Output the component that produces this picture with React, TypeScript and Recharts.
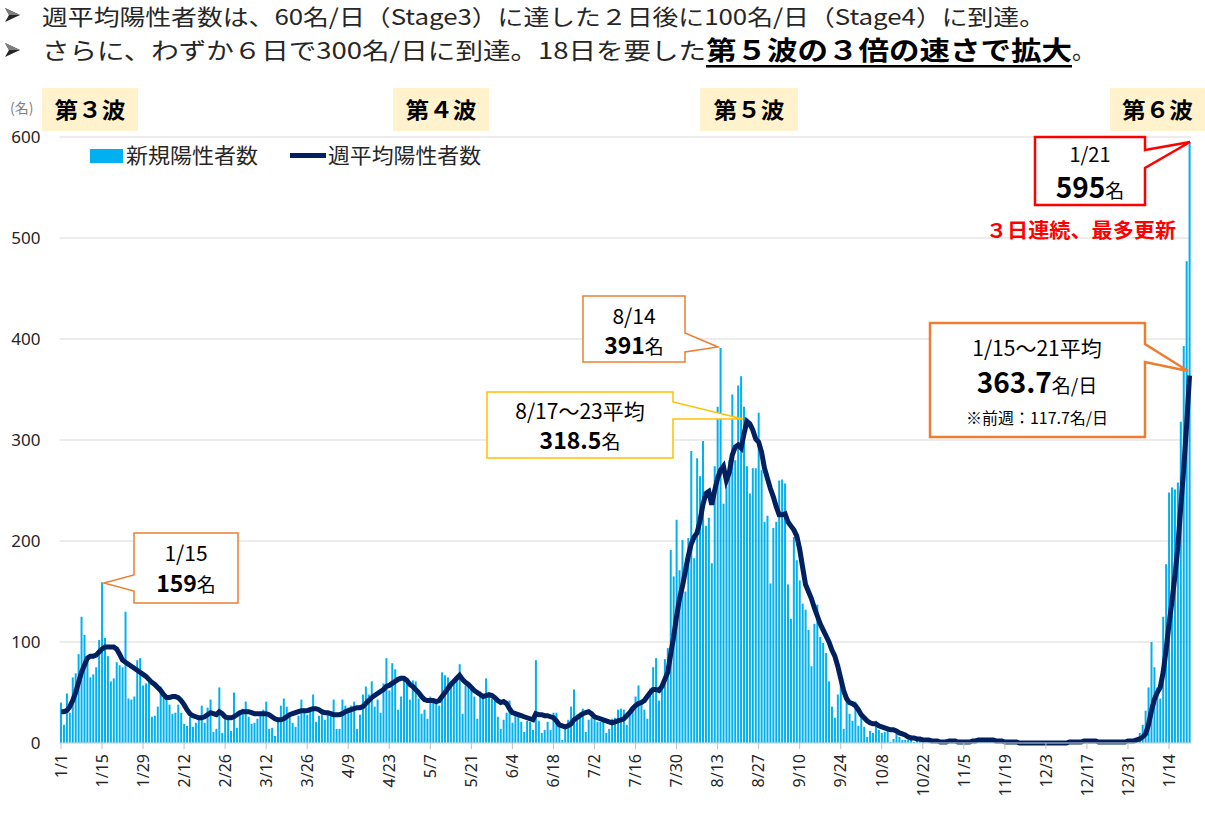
import React from 'react';
import { ComposedChart, Bar, Line, XAxis, YAxis, CartesianGrid } from 'recharts';

// 新規陽性者数 (2021/1/1 - 2022/1/21)
const jan21Cases = [40, 18, 49, 30, 65, 69, 88, 125, 107, 86, 65, 68, 75, 102, 159, 104, 86, 61, 64, 80, 77, 75, 130, 44, 43, 46, 82, 84, 57, 59, 64];
const feb21Cases = [26, 27, 36, 56, 46, 46, 38, 29, 30, 38, 30, 19, 17, 26, 16, 20, 26, 37, 20, 35, 43, 11, 14, 55, 10, 26, 26, 12];
const mar21Cases = [50, 15, 30, 34, 41, 26, 19, 20, 24, 29, 33, 41, 14, 15, 7, 25, 37, 44, 36, 29, 20, 16, 27, 43, 34, 28, 31, 48, 21, 27, 33];
const apr21Cases = [23, 29, 29, 43, 14, 14, 43, 37, 35, 37, 41, 14, 28, 48, 56, 48, 61, 36, 43, 30, 59, 84, 52, 79, 73, 33, 46, 65, 64, 43];
const may21Cases = [62, 61, 44, 29, 33, 24, 46, 43, 41, 37, 70, 67, 65, 61, 60, 62, 78, 29, 57, 56, 53, 46, 24, 51, 46, 64, 46, 44, 44, 26, 14];
const jun21Cases = [23, 30, 42, 20, 31, 30, 21, 11, 22, 21, 13, 82, 22, 10, 13, 21, 13, 30, 30, 16, 3, 14, 23, 36, 53, 28, 30, 34, 11, 23];
const jul21Cases = [25, 24, 21, 21, 22, 10, 14, 24, 25, 33, 34, 33, 18, 31, 35, 46, 57, 41, 33, 24, 54, 75, 84, 42, 53, 83, 94, 191, 165, 221, 171];
const aug21Cases = [201, 150, 203, 289, 183, 282, 264, 299, 215, 223, 178, 274, 333, 391, 237, 254, 280, 345, 280, 354, 363, 333, 274, 247, 272, 272, 327, 270, 219, 225, 158];
const sep21Cases = [213, 219, 260, 261, 257, 157, 123, 204, 181, 161, 138, 132, 112, 76, 118, 137, 105, 99, 89, 61, 36, 25, 48, 68, 14, 48, 29, 22, 41, 17];
const oct21Cases = [26, 16, 6, 12, 10, 22, 13, 10, 11, 16, 1, 4, 13, 6, 3, 3, 3, 5, 1, 2, 4, 1, 0, 2, 1, 2, 1, 0, 2, 4, 1];
const nov21Cases = [1, 0, 2, 1, 0, 1, 3, 2, 4, 3, 5, 2, 3, 4, 1, 2, 1, 0, 1, 0, 0, 1, 0, 0, 1, 0, 0, 0, 1, 0];
const dec21Cases = [0, 0, 1, 0, 0, 0, 0, 1, 0, 0, 0, 1, 0, 1, 2, 3, 2, 1, 2, 1, 1, 0, 1, 2, 1, 0, 1, 2, 1, 2, 3];
const jan22Cases = [2, 3, 5, 10, 18, 32, 55, 100, 75, 55, 44, 125, 177, 248, 253, 251, 258, 318, 393, 477, 595];

// 週平均陽性者数
const jan21Avg = [31, 31, 32, 36, 42, 50, 60, 70, 77, 84, 86, 86, 87, 90, 93, 95, 95, 95, 95, 93, 88, 82, 80, 78, 76, 74, 72, 70, 68, 66, 63];
const feb21Avg = [60, 58, 55, 52, 48, 45, 45, 46, 46, 45, 42, 38, 33, 29, 27, 26, 25, 25, 26, 28, 30, 29, 28, 31, 29, 26, 25, 25];
const mar21Avg = [26, 28, 30, 31, 31, 31, 30, 29, 29, 29, 29, 29, 28, 26, 24, 23, 23, 24, 26, 28, 29, 30, 31, 32, 32, 32, 33, 34, 34, 33, 31];
const apr21Avg = [30, 30, 29, 28, 28, 28, 29, 31, 32, 33, 34, 35, 35, 36, 39, 42, 45, 47, 49, 51, 53, 56, 57, 59, 61, 63, 64, 64, 62, 58];
const may21Avg = [56, 53, 50, 46, 43, 42, 42, 42, 41, 42, 46, 50, 54, 58, 61, 64, 67, 63, 60, 58, 55, 52, 50, 48, 46, 47, 48, 47, 45, 42, 40];
const jun21Avg = [41, 39, 34, 30, 29, 28, 27, 26, 25, 24, 23, 29, 28, 28, 27, 27, 26, 25, 22, 18, 17, 16, 17, 19, 23, 25, 27, 29, 30, 31];
const jul21Avg = [29, 26, 25, 24, 23, 22, 21, 20, 21, 22, 23, 24, 27, 30, 34, 37, 39, 40, 42, 46, 50, 53, 53, 52, 56, 63, 70, 88, 105, 125, 143];
const aug21Avg = [155, 170, 185, 197, 204, 208, 220, 236, 247, 249, 236, 250, 262, 270, 274, 260, 268, 285, 293, 295, 292, 306, 318.5, 316, 310, 301, 298, 288, 272, 262, 252];
const sep21Avg = [244, 234, 226, 226, 227, 219, 215, 211, 205, 192, 174, 157, 150, 143, 134, 126, 118, 112, 106, 100, 92, 86, 76, 64, 52, 44, 40, 39, 37, 33];
const oct21Avg = [28, 25, 22, 20, 19, 19, 17, 16, 15, 14, 13, 13, 12, 10, 9, 8, 6, 5, 5, 4, 4, 3, 3, 3, 2, 2, 2, 1, 1, 1, 2];
const nov21Avg = [2, 2, 1, 1, 1, 1, 1, 2, 2, 3, 3, 3, 3, 3, 3, 2, 2, 2, 1, 1, 1, 1, 1, 0, 0, 0, 0, 0, 0, 0];
const dec21Avg = [0, 0, 0, 0, 0, 0, 0, 0, 0, 0, 1, 1, 1, 1, 1, 2, 2, 2, 2, 2, 1, 1, 1, 1, 1, 1, 1, 1, 1, 1, 2];
const jan22Avg = [2, 2, 3, 4, 6, 9, 18, 32, 43, 50, 55, 70, 92, 117.7, 140, 165, 194, 233, 271, 314, 363.7];

const monthNums = [1, 2, 3, 4, 5, 6, 7, 8, 9, 10, 11, 12, 1];
const casesByMonth = [jan21Cases, feb21Cases, mar21Cases, apr21Cases, may21Cases, jun21Cases, jul21Cases, aug21Cases, sep21Cases, oct21Cases, nov21Cases, dec21Cases, jan22Cases];
const avgByMonth = [jan21Avg, feb21Avg, mar21Avg, apr21Avg, may21Avg, jun21Avg, jul21Avg, aug21Avg, sep21Avg, oct21Avg, nov21Avg, dec21Avg, jan22Avg];

const tickLabels = ['1/1', '1/15', '1/29', '2/12', '2/26', '3/12', '3/26', '4/9', '4/23', '5/7', '5/21', '6/4', '6/18', '7/2', '7/16', '7/30', '8/13', '8/27', '9/10', '9/24', '10/8', '10/22', '11/5', '11/19', '12/3', '12/17', '12/31', '1/14'];
const yTicks = [0, 100, 200, 300, 400, 500, 600];

const data = casesByMonth
  .flatMap((arr, m) => arr.map((v, d) => ({ label: `${monthNums[m]}/${d + 1}`, cases: v, avg: avgByMonth[m][d] })))
  .map((row, i) => ({ ...row, i }));

const JP = "'Noto Sans CJK JP', 'Noto Sans', sans-serif";

const DateTick = (props: any) => {
  const { x, y, payload } = props;
  const label = tickLabels[Math.round(payload.value / 14)];
  return (
    <text transform={`translate(${x},${y + 3}) rotate(-90)`} textAnchor="end" dy="0.36em" fontSize={16} fill="#262626" fontFamily="'Noto Sans', sans-serif">
      {label}
    </text>
  );
};

// bullet arrowhead like the ➢ glyph
const Bullet = ({ y }: { y: number }) => (
  <g>
    <path d={`M5,${y - 7} L20,${y} L5,${y + 7} L9,${y} Z`} fill="#262626" />
    <path d={`M5,${y - 7} L20,${y} L9,${y} Z`} fill="#7F7F7F" />
  </g>
);

const Overlay = () => (
  <svg width={1205} height={823} style={{ position: 'absolute', left: 0, top: 0, pointerEvents: 'none' }} fontFamily={JP}>
    {/* header */}
    <Bullet y={15} />
    <Bullet y={50} />
    <text x={42} y={25} fontSize={22} fill="#262626" textLength={1003} lengthAdjust="spacingAndGlyphs">
      週平均陽性者数は、60名/日（Stage3）に達した２日後に100名/日（Stage4）に到達。
    </text>
    <text x={42} y={59} fontSize={23} fill="#262626" textLength={664} lengthAdjust="spacingAndGlyphs">
      さらに、わずか６日で300名/日に到達。18日を要した
    </text>
    <text x={706} y={60} fontSize={26} fontWeight={700} fill="#000" textLength={366} lengthAdjust="spacingAndGlyphs">
      第５波の３倍の速さで拡大
    </text>
    <rect x={706} y={65} width={366} height={2.5} fill="#000" />
    <text x={1072} y={59} fontSize={23} fill="#262626">。</text>

    {/* wave labels */}
    {[
      { x: 42, w: 96, t: '第３波' },
      { x: 393, w: 96, t: '第４波' },
      { x: 700, w: 98, t: '第５波' },
      { x: 1110, w: 95, t: '第６波' },
    ].map((b) => (
      <g key={b.t}>
        <rect x={b.x} y={88} width={b.w} height={43} fill="#FFF2CC" />
        <text x={b.x + b.w / 2} y={118} fontSize={22} fontWeight={700} textAnchor="middle" fill="#000" textLength={71} lengthAdjust="spacingAndGlyphs">{b.t}</text>
      </g>
    ))}
    <text x={10} y={113} fontSize={14} fill="#7F7F7F">(名)</text>

    {/* legend */}
    <rect x={90} y={149} width={33} height={14} fill="#00B0F0" />
    <text x={126} y={163} fontSize={21} fill="#262626" textLength={132} lengthAdjust="spacingAndGlyphs">新規陽性者数</text>
    <line x1={290} x2={326} y1={155.5} y2={155.5} stroke="#002060" strokeWidth={5} />
    <text x={328} y={163} fontSize={21} fill="#262626" textLength={153} lengthAdjust="spacingAndGlyphs">週平均陽性者数</text>

    {/* callouts */}
    <path d="M134,533 H238 V603 H134 V591 L104,583 L134,575 Z" fill="#fff" stroke="#ED7D31" strokeWidth={1.5} />
    <text x={186} y={561} fontSize={21} textAnchor="middle" fill="#000">1/15</text>
    <text x={186} y={592} textAnchor="middle" fill="#000">
      <tspan fontSize={23} fontWeight={700}>159</tspan>
      <tspan fontSize={19}>名</tspan>
    </text>

    <path d="M583,296 H685 V333 L718,347 L685,352 V362 H583 Z" fill="#fff" stroke="#ED7D31" strokeWidth={1.5} />
    <text x={634} y={324} fontSize={21} textAnchor="middle" fill="#000">8/14</text>
    <text x={634} y={354} textAnchor="middle" fill="#000">
      <tspan fontSize={23} fontWeight={700}>391</tspan>
      <tspan fontSize={19}>名</tspan>
    </text>

    <path d="M487,392 H673 V402 L743,419 L673,419 V458 H487 Z" fill="#fff" stroke="#FFC000" strokeWidth={1.5} />
    <text x={580} y={419} fontSize={21} textAnchor="middle" fill="#000">8/17～23平均</text>
    <text x={580} y={449} textAnchor="middle" fill="#000">
      <tspan fontSize={23} fontWeight={700}>318.5</tspan>
      <tspan fontSize={19}>名</tspan>
    </text>

    <path d="M1035,137 H1145 V150 L1190,142 L1145,168 V205 H1035 Z" fill="#fff" stroke="#FF0000" strokeWidth={2.5} />
    <text x={1090} y={162} fontSize={20} textAnchor="middle" fill="#000">1/21</text>
    <text x={1090} y={198} textAnchor="middle" fill="#000">
      <tspan fontSize={28} fontWeight={700}>595</tspan>
      <tspan fontSize={19}>名</tspan>
    </text>
    <text x={1081} y={238} fontSize={20} fontWeight={700} textAnchor="middle" fill="#FF0000" textLength={190} lengthAdjust="spacingAndGlyphs">３日連続、最多更新</text>

    <path d="M930,323 H1145 V344 L1188,371 L1145,362 V437 H930 Z" fill="#fff" stroke="#ED7D31" strokeWidth={2.5} />
    <text x={1037} y={356} fontSize={21} textAnchor="middle" fill="#000">1/15～21平均</text>
    <text x={1037} y={393} textAnchor="middle" fill="#000">
      <tspan fontSize={28} fontWeight={700}>363.7</tspan>
      <tspan fontSize={19}>名/日</tspan>
    </text>
    <text x={1037} y={424} fontSize={16} textAnchor="middle" fill="#000">※前週：117.7名/日</text>
  </svg>
);

export default function App() {
  return (
    <div style={{ position: 'absolute', left: 0, top: 0, width: 1205, height: 823, background: '#fff', overflow: 'hidden' }}>
      <ComposedChart
        width={1205}
        height={823}
        data={data}
        margin={{ top: 137, right: 14, bottom: 0, left: 0 }}
        barCategoryGap="18%"
      >
        <CartesianGrid vertical={false} stroke="#D9D9D9" />
        <XAxis
          dataKey="i"
          type="category"
          interval={13}
          height={80}
          tick={<DateTick />}
          tickLine={{ stroke: '#BFBFBF' }}
          tickSize={6}
          axisLine={{ stroke: '#D9D9D9' }}
        />
        <YAxis
          domain={[0, 600]}
          ticks={yTicks}
          width={59.5}
          axisLine={false}
          tickLine={false}
          tickSize={0}
          tickMargin={19}
          tick={{ fontSize: 17, fill: '#262626', fontFamily: "'Noto Sans', sans-serif" }}
        />
        <Bar dataKey="cases" fill="#00B0F0" isAnimationActive={false} />
        <Line dataKey="avg" type="linear" stroke="#002060" strokeWidth={5} dot={false} isAnimationActive={false} />
      </ComposedChart>
      <Overlay />
    </div>
  );
}
